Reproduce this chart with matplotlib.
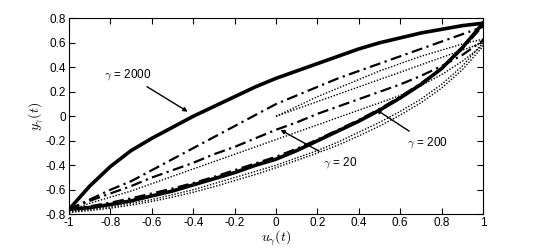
import matplotlib
matplotlib.use('Agg')
import matplotlib.pyplot as plt
import numpy as np

plt.rcParams['font.family'] = ['Liberation Sans', 'DejaVu Sans']
plt.rcParams['mathtext.fontset'] = 'cm'
plt.rcParams['axes.unicode_minus'] = False

# input grid shared by all branches
u = np.round(np.linspace(-1, 1, 21), 1)

# gamma = 2000 (solid)
up_2000 = [-0.76, -0.57, -0.41, -0.28, -0.18, -0.09, 0.0, 0.08, 0.16, 0.24, 0.31,
           0.37, 0.43, 0.49, 0.55, 0.60, 0.64, 0.68, 0.71, 0.74, 0.76]
lo_2000 = [-0.76, -0.745, -0.72, -0.69, -0.65, -0.61, -0.56, -0.51, -0.46, -0.40, -0.35,
           -0.28, -0.20, -0.12, -0.04, 0.05, 0.15, 0.26, 0.39, 0.56, 0.76]

# dash-dot branches
up_dd = [-0.76, -0.68, -0.60, -0.53, -0.44, -0.35, -0.26, -0.17, -0.08, 0.01, 0.10,
         0.17, 0.24, 0.31, 0.37, 0.43, 0.49, 0.55, 0.61, 0.67, 0.73]
mid_dd = [-0.76, -0.69, -0.63, -0.57, -0.50, -0.44, -0.38, -0.31, -0.25, -0.18, -0.11,
          -0.05, 0.02, 0.08, 0.14, 0.20, 0.26, 0.33, 0.41, 0.50, 0.62]
lo_dd = [-0.76, -0.735, -0.705, -0.67, -0.63, -0.59, -0.545, -0.495, -0.44, -0.385, -0.33,
         -0.265, -0.19, -0.11, -0.03, 0.06, 0.16, 0.27, 0.39, 0.55, 0.74]

# dotted branches
mid_dot = [-0.77, -0.71, -0.66, -0.61, -0.55, -0.49, -0.43, -0.37, -0.31, -0.25, -0.19,
           -0.13, -0.07, -0.01, 0.05, 0.11, 0.17, 0.25, 0.34, 0.45, 0.58]
lo_dot1 = [-0.78, -0.76, -0.74, -0.71, -0.68, -0.64, -0.60, -0.55, -0.50, -0.45, -0.40,
           -0.34, -0.28, -0.21, -0.13, -0.05, 0.04, 0.14, 0.26, 0.41, 0.60]
lo_dot2 = [-0.785, -0.77, -0.75, -0.725, -0.695, -0.66, -0.62, -0.575, -0.525, -0.475, -0.42,
           -0.36, -0.30, -0.235, -0.16, -0.08, 0.01, 0.11, 0.23, 0.38, 0.57]
# dotted start-up from the origin
u_start = u[10:]
start_dot1 = [0.0, 0.08, 0.16, 0.23, 0.30, 0.37, 0.43, 0.49, 0.54, 0.59, 0.63]
start_dot2 = [0.0, 0.06, 0.12, 0.18, 0.24, 0.30, 0.36, 0.42, 0.48, 0.54, 0.60]

fig = plt.figure(figsize=(5.34, 2.48), dpi=100)
ax = fig.add_axes([0.1292, 0.1359, 0.7753, 0.7903])

dot = (0, (1, 1.2))
for y in [mid_dot, lo_dot1, lo_dot2]:
    ax.plot(u, y, color='k', lw=1.0, linestyle=dot)
for y in [start_dot1, start_dot2]:
    ax.plot(u_start, y, color='k', lw=1.0, linestyle=dot)

dd = (0, (5, 2, 1, 2))
for y in [up_dd, mid_dd, lo_dd]:
    ax.plot(u, y, color='k', lw=1.6, linestyle=dd, solid_joinstyle='round')

ax.plot(u, up_2000, color='k', lw=2.6, solid_joinstyle='round')
ax.plot(u, lo_2000, color='k', lw=2.6, solid_joinstyle='round')

ax.set_xlim(-1, 1)
ax.set_ylim(-0.8, 0.8)
xt = np.round(np.arange(-1, 1.01, 0.2), 1) + 0.0
yt = np.round(np.arange(-0.8, 0.81, 0.2), 1) + 0.0
ax.set_xticks(xt)
ax.set_yticks(yt)
ax.set_xticklabels(['%g' % v for v in xt])
ax.set_yticklabels(['%g' % v for v in yt])
ax.tick_params(direction='in', length=4, width=0.8, top=True, right=True,
               labelsize=8.5, pad=2)
for s in ax.spines.values():
    s.set_linewidth(0.8)

ax.set_xlabel(r'$u_\gamma(t)$', fontsize=10, labelpad=0)
ax.set_ylabel(r'$y_\gamma(t)$', fontsize=10, labelpad=0)

arr = dict(arrowstyle='-|>', color='k', lw=1.0, mutation_scale=6)
ax.annotate(r'$\gamma$ = 2000', xy=(-0.415, 0.026), xytext=(-0.715, 0.337),
            fontsize=8.5, ha='center', va='center', arrowprops=arr)
ax.annotate(r'$\gamma$ = 200', xy=(0.473, 0.067), xytext=(0.73, -0.217),
            fontsize=8.5, ha='center', va='center', arrowprops=arr)
ax.annotate(r'$\gamma$ = 20', xy=(0.01, -0.10), xytext=(0.31, -0.38),
            fontsize=8.5, ha='center', va='center', arrowprops=arr)

fig.savefig('out.png', dpi=100)
